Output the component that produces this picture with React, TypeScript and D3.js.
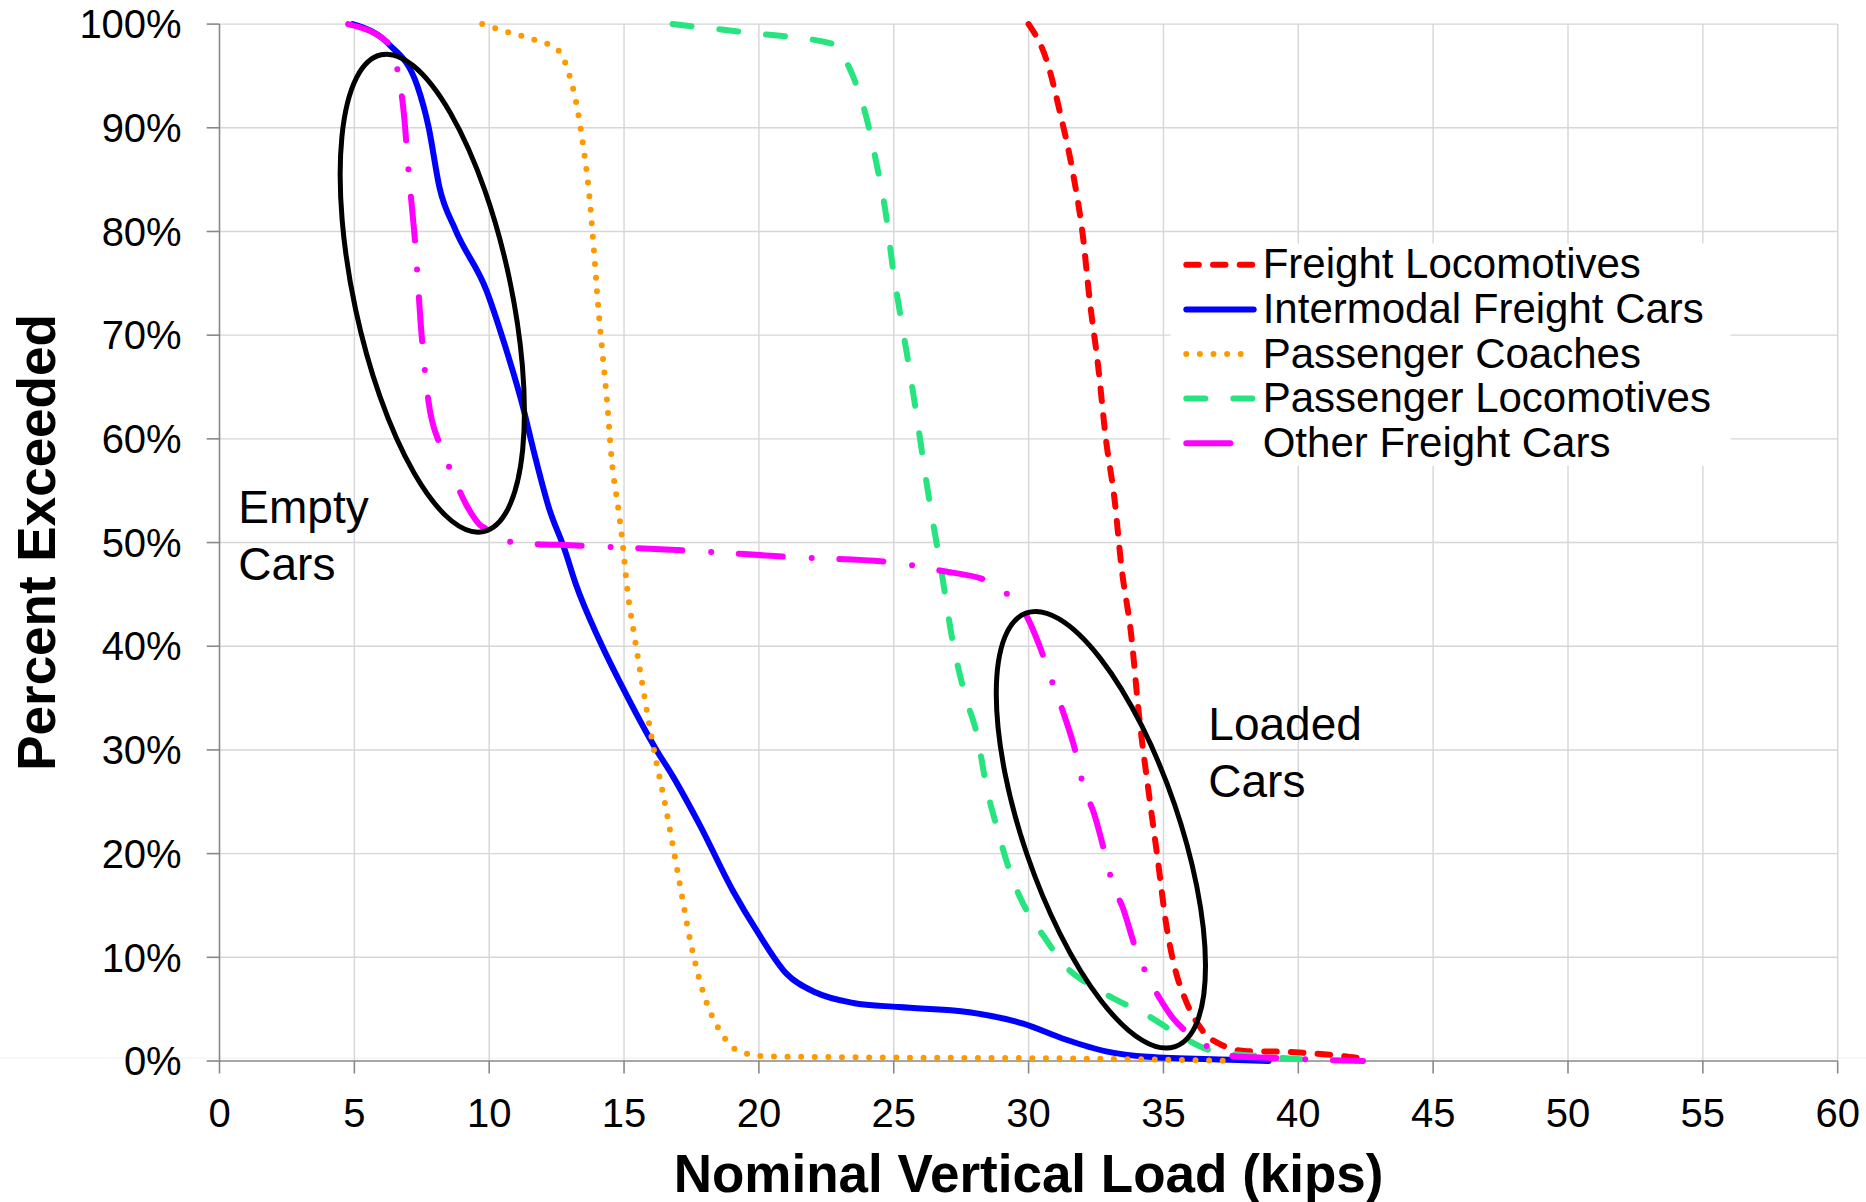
import React from "react";
import * as d3 from "d3";

type Pt = [number, number];

const xTicks = [0, 5, 10, 15, 20, 25, 30, 35, 40, 45, 50, 55, 60];
const yTicks = [0, 10, 20, 30, 40, 50, 60, 70, 80, 90, 100];

const freightLocomotives: Pt[] = [
  [30.0, 100], [30.68, 96.4], [31.18, 91.3], [31.64, 85.7], [32.02, 79.4], [32.26, 73.5],
  [32.57, 67.2], [32.87, 59.9], [33.18, 54.3], [33.45, 47.5], [33.8, 41.2], [34.1, 33.2],
  [34.49, 25.2], [34.8, 19.2], [35.1, 13.2], [35.4, 9.2], [35.8, 6.0], [36.4, 3.1],
  [37.2, 1.5], [38.1, 0.95], [39.4, 0.9], [40.4, 0.75], [41.6, 0.5], [42.2, 0.3],
];

const intermodalFreightCars: Pt[] = [
  [4.94, 100], [6.26, 98.1], [7.34, 94.0], [7.75, 90.1], [8.16, 84.2], [8.74, 80.2],
  [9.9, 74.3], [10.56, 69.2], [11.23, 63.3], [11.72, 58.1], [12.22, 53.3], [12.8, 49.3],
  [13.21, 46.0], [14.1, 40.5], [15.03, 35.6], [16.2, 30.0], [16.8, 27.5], [17.8, 22.8],
  [19.04, 16.4], [19.96, 12.4], [21.03, 8.4], [22.11, 6.6], [23.5, 5.6], [25.19, 5.2],
  [27.8, 4.7], [29.8, 3.6], [31.34, 2.1], [32.87, 0.93], [34.41, 0.4], [37.48, 0.12], [38.9, 0],
];

const passengerCoaches: Pt[] = [
  [9.74, 100], [10.73, 99.2], [11.72, 98.45], [12.55, 97.5], [12.97, 95.1], [13.22, 92.5],
  [13.46, 88.7], [13.71, 83.5], [13.88, 78.3], [14.04, 72.8], [14.21, 68.0], [14.37, 63.6],
  [14.54, 58.0], [14.79, 53.2], [14.95, 49.9], [15.12, 45.5], [15.37, 41.2], [15.7, 36.0],
  [16.05, 30.8], [16.55, 24.4], [17.03, 17.6], [17.47, 11.4], [17.96, 6.4], [18.58, 2.8],
  [19.27, 0.93], [20.27, 0.45], [25.19, 0.33], [31.34, 0.25], [35.95, 0.08], [37.48, 0],
];

const passengerLocomotives: Pt[] = [
  [16.8, 100], [19.5, 99.2], [22.73, 98.1], [22.96, 97.5], [23.5, 94.9], [23.96, 91.25],
  [24.34, 86.8], [24.73, 81.3], [24.95, 76.8], [25.26, 71.7], [25.57, 66.9], [25.88, 61.7],
  [26.19, 56.2], [26.49, 51.4], [26.72, 48.0], [27.19, 40.4], [27.65, 35.2], [28.11, 31.2],
  [28.41, 26.8], [28.88, 22.0], [29.34, 18.0], [29.95, 14.4], [30.57, 12.0], [31.34, 9.2],
  [32.1, 7.6], [33.18, 6.0], [34.41, 4.4], [35.64, 2.4], [36.87, 0.93], [38.26, 0.53], [40.5, 0.12],
];

const otherFreightCars: Pt[] = [
  [4.77, 100], [6.34, 97.96], [6.59, 95.7], [6.84, 91.25], [7.0, 86.1], [7.26, 78.7],
  [7.5, 69.8], [7.75, 63.6], [8.16, 59.5], [8.58, 56.9], [9.16, 53.6], [9.66, 51.7],
  [10.07, 51.2], [10.9, 50.0], [13.38, 49.7], [17.52, 49.2], [21.19, 48.6], [24.88, 48.1],
  [26.72, 47.3], [28.57, 46.2], [29.34, 44.7], [29.95, 42.8], [30.41, 40.0], [30.95, 36.0],
  [31.34, 33.2], [31.8, 29.2], [32.02, 26.6], [32.41, 24.0], [32.87, 19.6], [33.1, 17.2],
  [33.49, 14.8], [34.03, 10.4], [34.41, 8.2], [34.87, 6.0], [35.33, 4.2], [35.95, 2.6],
  [36.87, 1.1], [37.79, 0.4], [39.64, 0.25], [40.5, 0.15], [42.4, 0],
];

const seriesNames = [
  "Freight Locomotives",
  "Intermodal Freight Cars",
  "Passenger Coaches",
  "Passenger Locomotives",
  "Other Freight Cars",
];
const seriesData = [
  freightLocomotives,
  intermodalFreightCars,
  passengerCoaches,
  passengerLocomotives,
  otherFreightCars,
];
const seriesColors = ["#FF0000", "#0000FF", "#FF9900", "#26E57E", "#FF00FF"];
const seriesDash = ["12.5,14.2", "none", "0,13.6", "19,28", "44,29,0,27.7"];

// annotation ellipses: center in data units
const ellipseCenters: Pt[] = [[7.89, 74.05], [32.68, 22.3]];
const annotationLabels = [["Empty", "Cars"], ["Loaded", "Cars"]];

const FONT = "'Liberation Sans', Arial, sans-serif";

export default function App() {
  const W = 1866, H = 1202;
  const x = d3.scaleLinear().domain([0, 60]).range([219.5, 1837.7]);
  const y = d3.scaleLinear().domain([0, 100]).range([1061, 24.1]);
  const line = d3
    .line<Pt>()
    .x((d) => x(d[0]))
    .y((d) => y(d[1]))
    .curve(d3.curveMonotoneX);

  const ellipseGeom = [
    { rx: 78.4, ry: 243.8, rot: -12.1 },
    { rx: 77.9, ry: 229.2, rot: -18.9 },
  ];
  const labelPos: Pt[] = [[238.3, 523.3], [1208.3, 740]];

  const legX0 = 1186.3, legX1 = 1253.7, legText = 1262.7, legBase0 = 278.3, legStep = 44.6;

  return (
    <svg
      width={W}
      height={H}
      style={{ position: "absolute", left: 0, top: 0, background: "#fff" }}
      fontFamily={FONT}
    >
      <rect x={0} y={0} width={W} height={H} fill="#fff" />
      <line x1={0} x2={W} y1={1058} y2={1058} stroke="#f0f0f0" strokeWidth={1} />
      {/* gridlines */}
      {xTicks.filter((t) => t > 0).map((t) => (
        <line key={"gx" + t} x1={x(t)} x2={x(t)} y1={y(100)} y2={y(0)} stroke="#d6d6d6" strokeWidth={1.4} />
      ))}
      {yTicks.filter((t) => t > 0).map((t) => (
        <line key={"gy" + t} x1={x(0)} x2={x(60)} y1={y(t)} y2={y(t)} stroke="#d6d6d6" strokeWidth={1.4} />
      ))}
      {/* axes */}
      <line x1={x(0)} x2={x(0)} y1={y(100)} y2={y(0)} stroke="#888" strokeWidth={1.6} />
      <line x1={x(0)} x2={x(60)} y1={y(0)} y2={y(0)} stroke="#888" strokeWidth={1.6} />
      {yTicks.map((t) => (
        <g key={"ty" + t}>
          <line x1={x(0) - 12.8} x2={x(0)} y1={y(t)} y2={y(t)} stroke="#888" strokeWidth={1.6} />
          <text x={181.7} y={y(t) + 14.2} fontSize={40} textAnchor="end" fill="#000">
            {t + "%"}
          </text>
        </g>
      ))}
      {xTicks.map((t) => (
        <g key={"tx" + t}>
          <line x1={x(t)} x2={x(t)} y1={y(0)} y2={y(0) + 12.5} stroke="#888" strokeWidth={1.6} />
          <text x={x(t)} y={1126.7} fontSize={40} textAnchor="middle" fill="#000">
            {t}
          </text>
        </g>
      ))}
      {/* axis titles */}
      <text x={1028.6} y={1192} fontSize={53} fontWeight="bold" textAnchor="middle" fill="#000">
        Nominal Vertical Load (kips)
      </text>
      <text
        transform={`translate(54.5,542.5) rotate(-90)`}
        fontSize={53}
        fontWeight="bold"
        textAnchor="middle"
        fill="#000"
      >
        Percent Exceeded
      </text>
      {/* series */}
      {seriesData.map((d, i) => (
        <path
          key={"s" + i}
          d={line(d) || ""}
          fill="none"
          stroke={seriesColors[i]}
          strokeWidth={6}
          strokeDasharray={seriesDash[i]}
          strokeLinecap="round"
          strokeLinejoin="round"
        />
      ))}
      {/* ellipses */}
      {ellipseCenters.map((c, i) => (
        <ellipse
          key={"e" + i}
          cx={0}
          cy={0}
          rx={ellipseGeom[i].rx}
          ry={ellipseGeom[i].ry}
          transform={`translate(${x(c[0])},${y(c[1])}) rotate(${ellipseGeom[i].rot})`}
          fill="none"
          stroke="#000"
          strokeWidth={5}
        />
      ))}
      {/* annotation labels */}
      {annotationLabels.map((lines, i) => (
        <text key={"a" + i} x={labelPos[i][0]} y={labelPos[i][1]} fontSize={46} fill="#000">
          {lines.map((l, j) => (
            <tspan key={j} x={labelPos[i][0]} y={labelPos[i][1] + j * 56.5}>
              {l}
            </tspan>
          ))}
        </text>
      ))}
      {/* legend */}
      <rect x={1170.5} y={243.5} width={560} height={222.4} fill="#fff" />
      {seriesNames.map((name, i) => {
        const base = legBase0 + i * legStep;
        const ly = base - 13.5;
        const end = i === 2 ? 1248 : legX1;
        return (
          <g key={"l" + i}>
            <line
              x1={legX0}
              x2={end}
              y1={ly}
              y2={ly}
              stroke={seriesColors[i]}
              strokeWidth={6}
              strokeDasharray={seriesDash[i]}
              strokeLinecap="round"
            />
            <text x={legText} y={base} fontSize={42} fill="#000">
              {name}
            </text>
          </g>
        );
      })}
    </svg>
  );
}
